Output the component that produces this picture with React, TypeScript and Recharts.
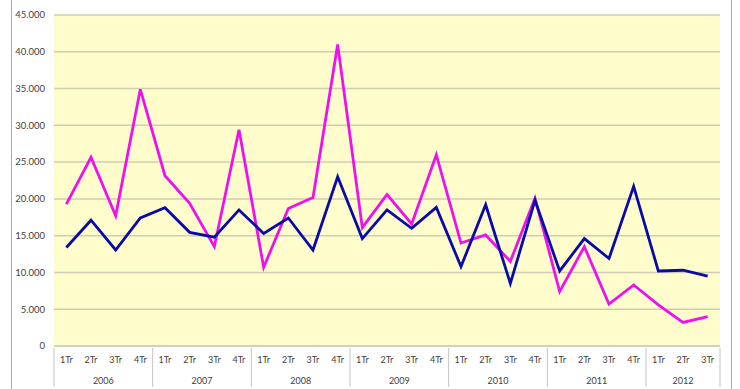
import React from "react";
import { LineChart, Line, XAxis, YAxis, CartesianGrid } from "recharts";

const years = ["2006", "2007", "2008", "2009", "2010", "2011", "2012"];
const quarterLabels = [
  "1Tr", "2Tr", "3Tr", "4Tr",
  "1Tr", "2Tr", "3Tr", "4Tr",
  "1Tr", "2Tr", "3Tr", "4Tr",
  "1Tr", "2Tr", "3Tr", "4Tr",
  "1Tr", "2Tr", "3Tr", "4Tr",
  "1Tr", "2Tr", "3Tr", "4Tr",
  "1Tr", "2Tr", "3Tr",
];
const quartersPerYear = [4, 4, 4, 4, 4, 4, 3];

const magentaSeries = [
  19300, 25650, 17700, 34900, 23150, 19400, 13500, 29400, 10700, 18700, 20200, 41000, 16100, 20600,
  16600, 26000, 14000, 15100, 11500, 20100, 7400, 13500, 5700, 8300, 5600, 3200, 4000,
];
const blueSeries = [
  13400, 17100, 13050, 17400, 18800, 15450, 14800, 18500, 15300, 17400, 13050, 23000, 14600, 18500,
  16000, 18850, 10800, 19200, 8500, 19800, 10200, 14600, 11900, 21700, 10200, 10300, 9500,
];
const yTicks = [0, 5000, 10000, 15000, 20000, 25000, 30000, 35000, 40000, 45000];

const W = 740;
const H = 389;
const margin = { top: 15, right: 20, left: 0, bottom: 0 };
const yAxisWidth = 54;
const xAxisHeight = 43;
const FONT = "Lato, 'Open Sans', sans-serif";

// year of each category + position inside its group
const yearOf: string[] = [];
const posInYear: number[] = [];
quartersPerYear.forEach((n, yi) => {
  for (let k = 0; k < n; k++) {
    yearOf.push(years[yi]);
    posInYear.push(k);
  }
});

const data = quarterLabels.map((q, i) => ({
  key: `${yearOf[i]} ${q}`,
  q,
  magenta: magentaSeries[i],
  blue: blueSeries[i],
}));

const band = (W - margin.left - margin.right - yAxisWidth) / data.length;

const fmt = (v: number) => String(v).replace(/\B(?=(\d{3})+(?!\d))/g, ".");

const QuarterTick = (props: any) => {
  const { x, y, payload } = props;
  const i = payload.index;
  const pos = posInYear[i];
  const size = quartersPerYear[years.indexOf(yearOf[i])];
  return (
    <g>
      <text x={x} y={y + 15} textAnchor="middle" fontSize={9} fill="#404040" fontFamily={FONT}>
        {quarterLabels[i]}
      </text>
      {pos === 0 && <line x1={x - band / 2} x2={x - band / 2} y1={y} y2={y + 39} stroke="#c4c4c4" />}
      {i === data.length - 1 && <line x1={x + band / 2} x2={x + band / 2} y1={y} y2={y + 39} stroke="#c4c4c4" />}
      {pos === 1 && (
        <text
          x={x + ((size - 1) / 2 - 1) * band}
          y={y + 36}
          textAnchor="middle"
          fontSize={9}
          fill="#404040"
          fontFamily={FONT}
        >
          {yearOf[i]}
        </text>
      )}
    </g>
  );
};

export default function App() {
  return (
    <div style={{ position: "absolute", left: 0, top: 0, width: W, height: H, background: "#fff", overflow: "hidden" }}>
      <div
        style={{
          position: "absolute",
          left: 11,
          top: -10,
          width: 719,
          height: H + 20,
          border: "1px solid #a8a8a8",
          pointerEvents: "none",
        }}
      />
      <LineChart width={W} height={H} data={data} margin={margin}>
        <CartesianGrid fill="#FEFDCB" stroke="#cfcdb4" strokeWidth={1.5} vertical={false} />
        <XAxis
          dataKey="key"
          height={xAxisHeight}
          interval={0}
          padding={{ left: band / 2, right: band / 2 }}
          tickLine={false}
          tickSize={0}
          axisLine={{ stroke: "#c8c8c8" }}
          tick={<QuarterTick />}
        />
        <YAxis
          width={yAxisWidth}
          domain={[0, 45000]}
          ticks={yTicks}
          tickFormatter={fmt}
          axisLine={false}
          tickLine={false}
          tickSize={0}
          tickMargin={9}
          tick={{ fontSize: 9.5, fill: "#404040", fontFamily: FONT }}
        />
        <Line dataKey="magenta" stroke="#EE10EE" strokeWidth={2.8} dot={false} isAnimationActive={false} />
        <Line dataKey="blue" stroke="#0A0AA8" strokeWidth={2.8} dot={false} isAnimationActive={false} />
      </LineChart>
    </div>
  );
}
